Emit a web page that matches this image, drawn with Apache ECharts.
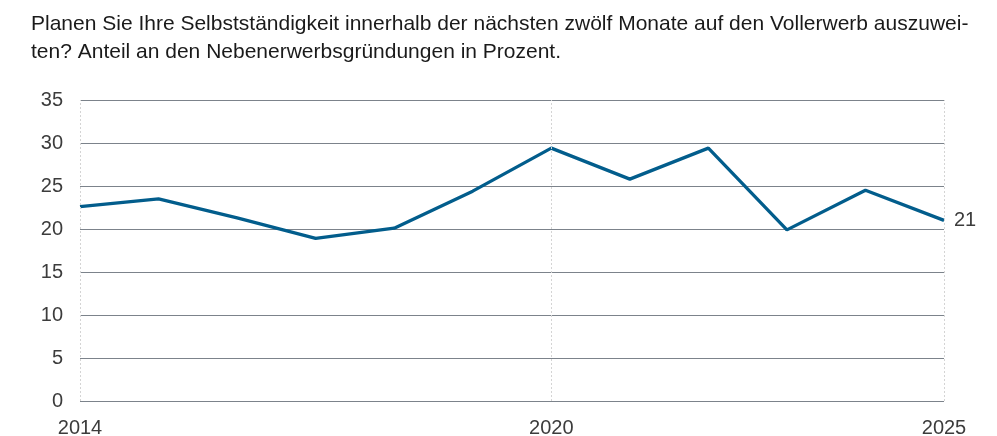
<!DOCTYPE html>
<html>
<head>
<meta charset="utf-8">
<script src="https://cdn.jsdelivr.net/npm/echarts@6/dist/echarts.min.js"></script>
<style>
  html, body { margin: 0; padding: 0; background: #fff; }
  #chart { width: 997px; height: 436px; }
</style>
</head>
<body>
<div id="chart"></div>
<script>
// Jahre und Anteil in Prozent
const years = [2014, 2015, 2016, 2017, 2018, 2019, 2020, 2021, 2022, 2023, 2024, 2025];
const values = [22.6, 23.5, 21.3, 18.9, 20.1, 24.4, 29.4, 25.8, 29.4, 19.9, 24.5, 21.0];
const xTickYears = [2014, 2020, 2025];
const titleText = 'Planen Sie Ihre Selbstständigkeit innerhalb der nächsten zwölf Monate auf den Vollerwerb auszuwei-\nten? Anteil an den Nebenerwerbsgründungen in Prozent.';

const font = 'Liberation Sans, Arial, sans-serif';
const chart = echarts.init(document.getElementById('chart'), null, { renderer: 'canvas' });

chart.setOption({
  animation: false,
  title: {
    text: titleText,
    left: 26,
    top: 5,
    textStyle: {
      fontFamily: font,
      fontSize: 21,
      fontWeight: 'normal',
      color: '#1a1a1a',
      lineHeight: 28
    }
  },
  grid: { left: 80, right: 53, top: 100, bottom: 35, containLabel: false, outerBoundsMode: 'none' },
  xAxis: {
    type: 'value',
    min: 2014,
    max: 2025,
    axisLine: { show: false },
    axisTick: { show: false },
    splitLine: { show: false },
    axisLabel: {
      customValues: xTickYears,
      margin: 17,
      fontFamily: font,
      fontSize: 20,
      color: '#3c3c3c',
      formatter: v => String(v)
    }
  },
  yAxis: {
    type: 'value',
    min: 0,
    max: 35,
    interval: 5,
    axisLine: { show: false },
    axisTick: { show: false },
    axisLabel: {
      margin: 17,
      fontFamily: font,
      fontSize: 20,
      color: '#3c3c3c'
    },
    splitLine: { lineStyle: { color: '#7c838b', width: 1 } }
  },
  series: [{
    type: 'line',
    data: years.map((y, i) => [y, values[i]]),
    symbol: 'none',
    lineStyle: { color: '#025d8c', width: 3.3 },
    endLabel: {
      show: true,
      distance: 10,
      fontFamily: font,
      fontSize: 20,
      color: '#3c3c3c',
      formatter: p => Math.round(p.value[1])
    },
    markLine: {
      silent: true,
      symbol: 'none',
      label: { show: false },
      lineStyle: { color: '#d4d4d4', type: [2, 2], width: 1 },
      data: xTickYears.map(y => ({ xAxis: y }))
    },
    z: 3
  }]
});
</script>
</body>
</html>
